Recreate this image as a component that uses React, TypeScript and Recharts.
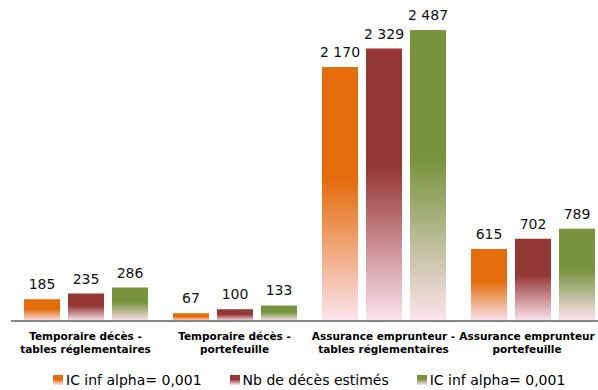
import React from 'react'
import { BarChart, Bar, XAxis, YAxis, Legend, LabelList } from 'recharts'

const categories = [
  'Temporaire décès -\ntables réglementaires',
  'Temporaire décès -\nportefeuille',
  'Assurance emprunteur -\ntables réglementaires',
  'Assurance emprunteur\nportefeuille',
]
const icInfLow = [185, 67, 2170, 615]
const nbDeces = [235, 100, 2329, 702]
const icInfHigh = [286, 133, 2487, 789]

const seriesNames = ['IC inf alpha= 0,001', 'Nb de décès estimés', 'IC inf alpha= 0,001']

const data = categories.map((name, i) => ({
  name,
  low: icInfLow[i],
  mid: nbDeces[i],
  high: icInfHigh[i],
}))

const FONT = '"DejaVu Sans", Verdana, sans-serif'

const series = [
  { key: 'low', id: 'gOrange', color: '#E46C0A', name: seriesNames[0] },
  { key: 'mid', id: 'gRed', color: '#953735', name: seriesNames[1] },
  { key: 'high', id: 'gGreen', color: '#77933C', name: seriesNames[2] },
]

// 2170 -> "2 170"
const fmt = (v: number) =>
  v >= 1000 ? `${Math.floor(v / 1000)} ${String(v % 1000).padStart(3, '0')}` : String(v)

function ValueLabel({ x, y, width, value }: any) {
  return (
    <text
      x={Number(x) + Number(width) / 2}
      y={Number(y) - 10}
      textAnchor="middle"
      fontFamily={FONT}
      fontSize={14}
      fill="#111"
    >
      {fmt(Number(value))}
    </text>
  )
}

// keep the last label inside the frame
const TICK_MAX_X = 527

function CategoryTick({ x, y, payload }: any) {
  const lines = String(payload.value).split('\n')
  const cx = Math.min(Number(x), TICK_MAX_X)
  return (
    <text x={cx} y={y} textAnchor="middle" fontFamily={FONT} fontSize={10.5} fontWeight="bold" fill="#000">
      {lines.map((l, i) => (
        <tspan key={i} x={cx} dy={i === 0 ? 19 : 13}>
          {l}
        </tspan>
      ))}
    </text>
  )
}

function LegendContent() {
  return (
    <div style={{ display: 'flex', alignItems: 'center', height: 20, paddingLeft: 53, gap: 28 }}>
      {series.map(s => (
        <div key={s.key} style={{ display: 'flex', alignItems: 'center' }}>
          <svg width={10} height={10} style={{ marginRight: 3 }}>
            <rect width={10} height={10} fill={`url(#${s.id})`} />
          </svg>
          <span style={{ fontFamily: FONT, fontSize: 14, color: '#000' }}>{s.name}</span>
        </div>
      ))}
    </div>
  )
}

export default function App() {
  return (
    <div style={{ position: 'absolute', left: 0, top: 0, width: 598, height: 390, overflow: 'hidden', background: '#fff' }}>
      <BarChart
        width={620}
        height={390}
        data={data}
        margin={{ top: 28.5, right: 13, left: 11, bottom: 9 }}
        barCategoryGap={13}
        barGap={8}
      >
        <defs>
          {series.map(s => (
            <linearGradient key={s.id} id={s.id} x1="0" y1="0" x2="0" y2="1">
              <stop offset="0%" stopColor={s.color} />
              <stop offset="44%" stopColor={s.color} />
              <stop offset="100%" stopColor="#FCE4EE" />
            </linearGradient>
          ))}
        </defs>
        <XAxis
          dataKey="name"
          axisLine={{ stroke: '#878787', strokeWidth: 2 }}
          tickLine={false}
          tickSize={0}
          tickMargin={0}
          interval={0}
          height={40}
          tick={<CategoryTick />}
        />
        <YAxis hide domain={[0, 2500]} />
        <Legend
          verticalAlign="bottom"
          content={<LegendContent />}
          wrapperStyle={{ top: 370, left: 0, width: 598, height: 20 }}
        />
        {series.map(s => (
          <Bar key={s.key} dataKey={s.key} name={s.name} fill={`url(#${s.id})`} isAnimationActive={false}>
            <LabelList dataKey={s.key} content={<ValueLabel />} />
          </Bar>
        ))}
      </BarChart>
    </div>
  )
}
